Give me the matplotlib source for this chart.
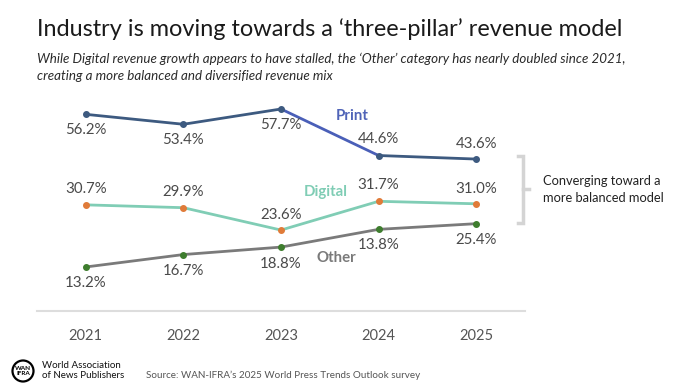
import matplotlib
matplotlib.use("Agg")
import matplotlib.pyplot as plt
from matplotlib.patches import Circle

plt.rcParams["font.family"] = ["Lato", "DejaVu Sans"]

# Data
years = [2021, 2022, 2023, 2024, 2025]
print_share = [56.2, 53.4, 57.7, 44.6, 43.6]
digital_share = [30.7, 29.9, 23.6, 31.7, 31.0]
other_share = [13.2, 16.7, 18.8, 23.8, 25.4]
# labels as printed on the original (2024 'Other' label reads 13.8%)
print_labels = ["56.2%", "53.4%", "57.7%", "44.6%", "43.6%"]
digital_labels = ["30.7%", "29.9%", "23.6%", "31.7%", "31.0%"]
other_labels = ["13.2%", "16.7%", "18.8%", "13.8%", "25.4%"]

C_PRINT = "#3d5a80"
C_PRINT_SEG = "#4a5fb8"
C_PRINT_TXT = "#5064b8"
C_DIGITAL = "#80cdb5"
C_DIG_MK = "#e07b39"
C_OTHER = "#7a7a7a"
C_OTHER_MK = "#3e7d2e"
C_LABEL = "#4a4a4a"

W, H = 696, 390
fig = plt.figure(figsize=(W / 100, H / 100), dpi=100)
fig.patch.set_facecolor("white")

# overlay in pixel coordinates for titles, bracket, footer
ov = fig.add_axes([0, 0, 1, 1])
ov.set_xlim(0, W)
ov.set_ylim(H, 0)
ov.axis("off")

# chart axes: pixel 37..525 horizontally, axis line at y=311, 3.55 px per %
ppu = 3.55
ybot, ytop = 0.8, 60
ax = fig.add_axes([37 / W, (H - 311) / H, 488 / W, (ytop - ybot) * ppu / H])
ax.patch.set_alpha(0)
ax.set_xlim(2020.5, 2025.5)
ax.set_ylim(ybot, ytop)
for s in ["top", "right", "left"]:
    ax.spines[s].set_visible(False)
ax.spines["bottom"].set_color("#dddddd")
ax.spines["bottom"].set_linewidth(1.5)
ax.set_yticks([])
ax.set_xticks(years)
ax.set_xticklabels([str(y) for y in years])
ax.tick_params(axis="x", length=0, pad=13, labelsize=10.5, labelcolor="#555555")

# lines
ax.plot(years[:3], print_share[:3], color=C_PRINT, lw=2, zorder=3)
ax.plot(years[2:4], print_share[2:4], color=C_PRINT_SEG, lw=2, zorder=3)
ax.plot(years[3:], print_share[3:], color=C_PRINT, lw=2, zorder=3)
ax.plot(years, print_share, ls="none", marker="o", ms=4, color=C_PRINT, zorder=4)
ax.plot(years, digital_share, color=C_DIGITAL, lw=2, zorder=3)
ax.plot(years, digital_share, ls="none", marker="o", ms=4, color=C_DIG_MK, zorder=4)
ax.plot(years, other_share, color=C_OTHER, lw=2, zorder=3)
ax.plot(years, other_share, ls="none", marker="o", ms=4, color=C_OTHER_MK, zorder=4)


def label(xs, ys, texts, dys):
    for x, y, t, dy in zip(xs, ys, texts, dys):
        ax.annotate(t, (x, y), xytext=(0, dy), textcoords="offset pixels",
                    ha="center", va="center", fontsize=10.8, color=C_LABEL)


label(years, print_share, print_labels, [-16, -16, -16, 17, 15])
label(years, digital_share, digital_labels, [16, 16, 15, 16, 15])
label(years, other_share, other_labels, [-16, -16, -17, -16, -16])

# series names
ax.text(2023.73, 55.8, "Print", color=C_PRINT_TXT, fontsize=10.8,
        fontweight="bold", ha="center", va="center")
ax.text(2023.46, 34.4, "Digital", color=C_DIGITAL, fontsize=10.8,
        fontweight="bold", ha="center", va="center")
ax.text(2023.57, 15.8, "Other", color=C_OTHER, fontsize=10.8,
        fontweight="bold", ha="center", va="center")

ov.text(37, 29, "Industry is moving towards a \u2018three-pillar\u2019 revenue model",
        fontsize=16.9, color="#1a1a1a", va="center", ha="left")
ov.text(37, 59, "While Digital revenue growth appears to have stalled, the \u2018Other\u2019 "
        "category has nearly doubled since 2021,", fontsize=9.6, style="italic",
        color="#2a2a2a", va="center")
ov.text(37, 76, "creating a more balanced and diversified revenue mix", fontsize=9.6,
        style="italic", color="#2a2a2a", va="center")

# bracket
bc = "#d4d4d4"
ov.plot([518, 523, 523, 518], [156, 156, 223, 223], color=bc, lw=2.5,
        solid_joinstyle="miter")
ov.plot([523, 529], [189, 189], color=bc, lw=2.5)
ov.text(543, 181, "Converging toward a", fontsize=9.3, color="#222222", va="center")
ov.text(543, 198, "more balanced model", fontsize=9.3, color="#222222", va="center")

# footer
ov.add_patch(Circle((23, 371), 10.5, facecolor="white", edgecolor="black", lw=1.6))
ov.text(23, 371, "WAN\nIFRA", fontsize=4.6, fontweight="bold", ha="center",
        va="center", linespacing=0.9, color="black")
ov.text(42, 366, "World Association", fontsize=7, color="#111111", va="center")
ov.text(42, 376, "of News Publishers", fontsize=7, color="#111111", va="center")
ov.text(146, 375, "Source: WAN-IFRA\u2019s 2025 World Press Trends Outlook survey",
        fontsize=7.1, color="#555555", va="center")

fig.savefig("out.png", dpi=100, facecolor="white")
